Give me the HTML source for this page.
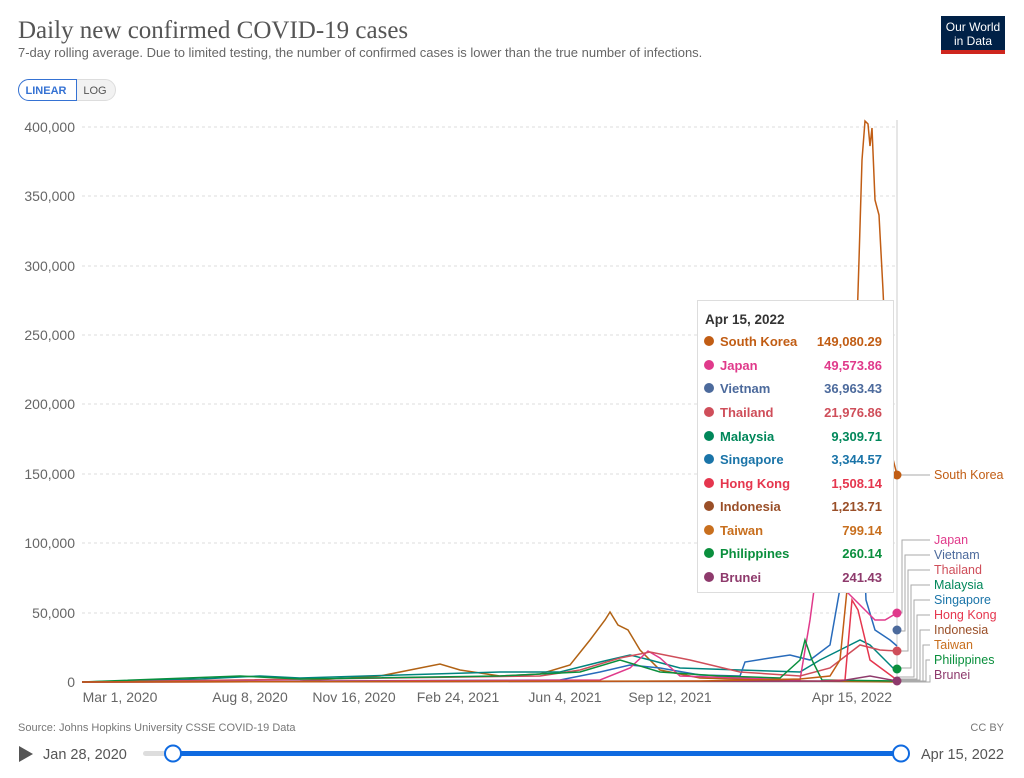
<!DOCTYPE html>
<html><head><meta charset="utf-8"><style>
body{margin:0;background:#fff;width:1024px;height:773px;overflow:hidden;font-family:"Liberation Sans",sans-serif}
</style></head><body>
<svg width="1024" height="773" xmlns="http://www.w3.org/2000/svg" font-family="Liberation Sans, sans-serif">
<text x="18" y="38" font-family="Liberation Serif, serif" font-size="25" fill="#555">Daily new confirmed COVID-19 cases</text>
<text x="18" y="57" font-size="13" fill="#666">7-day rolling average. Due to limited testing, the number of confirmed cases is lower than the true number of infections.</text>
<rect x="941" y="16" width="64" height="38" fill="#002147"/>
<rect x="941" y="50" width="64" height="4" fill="#ce261e"/>
<text x="973" y="31" font-size="12" fill="#fff" text-anchor="middle">Our World</text>
<text x="973" y="45" font-size="12" fill="#fff" text-anchor="middle">in Data</text>
<rect x="18.5" y="79.5" width="97" height="21" rx="10.5" fill="#f2f2f2" stroke="#ddd"/>
<path d="M29 79.5 H76.5 V100.5 H29 A10.5 10.5 0 0 1 29 79.5Z" fill="#fff" stroke="#3572d3"/>
<text x="46" y="94" font-size="11" font-weight="bold" fill="#3572d3" text-anchor="middle">LINEAR</text>
<text x="95" y="94" font-size="11" fill="#555" text-anchor="middle">LOG</text>
<g stroke="#ddd" stroke-dasharray="3,3">
<line x1="82" x2="897" y1="127" y2="127"/><line x1="82" x2="897" y1="196" y2="196"/><line x1="82" x2="897" y1="266" y2="266"/><line x1="82" x2="897" y1="335" y2="335"/><line x1="82" x2="897" y1="404" y2="404"/><line x1="82" x2="897" y1="474" y2="474"/><line x1="82" x2="897" y1="543" y2="543"/><line x1="82" x2="897" y1="613" y2="613"/>
</g>
<line x1="82" x2="897" y1="682" y2="682" stroke="#bbb"/>
<g font-size="14" fill="#666" text-anchor="end">
<text x="75" y="132">400,000</text><text x="75" y="201">350,000</text><text x="75" y="271">300,000</text><text x="75" y="340">250,000</text><text x="75" y="409">200,000</text><text x="75" y="479">150,000</text><text x="75" y="548">100,000</text><text x="75" y="618">50,000</text><text x="75" y="687">0</text>
</g>
<g font-size="14" fill="#666" text-anchor="middle">
<text x="120" y="702">Mar 1, 2020</text><text x="250" y="702">Aug 8, 2020</text><text x="354" y="702">Nov 16, 2020</text><text x="458" y="702">Feb 24, 2021</text><text x="565" y="702">Jun 4, 2021</text><text x="670" y="702">Sep 12, 2021</text><text x="852" y="702">Apr 15, 2022</text>
</g>
<line x1="897" x2="897" y1="120" y2="682" stroke="#ccc"/>
<g fill="none" stroke-width="1.5">
<path stroke="#b16214" d="M82 682 L300 681 L380 676 L420 668 L440 664 L460 670 L500 676 L540 674 L570 665 L590 640 L605 620 L610 612 L618 625 L628 630 L640 650 L660 670 L700 678 L800 681 L897 682"/>
<path stroke="#00847e" d="M82 682 L200 679 L260 676 L300 678 L400 675 L500 672 L560 672 L600 662 L630 655 L650 660 L680 668 L740 670 L800 672 L820 660 L840 650 L860 640 L870 645 L880 655 L897 672"/>
<path stroke="#286bbb" d="M82 682 L560 680 L600 672 L630 665 L660 668 L700 675 L740 676 L745 662 L770 658 L790 655 L810 660 L830 645 L845 560 L852 440 L858 400 L866 600 L875 630 L890 640 L897 646"/>
<path stroke="#e03a8b" d="M82 682 L600 680 L630 668 L648 651 L660 658 L680 676 L800 680 L810 620 L820 545 L830 555 L845 590 L860 605 L875 620 L885 620 L897 613"/>
<path stroke="#cf4e5a" d="M82 682 L540 676 L580 670 L620 658 L650 652 L690 660 L740 672 L800 676 L830 668 L860 645 L880 650 L897 651"/>
<path stroke="#0a8f3d" d="M82 682 L240 676 L300 679 L500 676 L580 672 L620 660 L660 672 L720 676 L780 678 L800 660 L805 640 L812 660 L822 680 L897 681"/>
<path stroke="#e5364e" d="M82 682 L820 681 L845 680 L852 600 L858 610 L870 660 L897 680"/>
<path stroke="#8e3a6c" d="M82 682 L840 681 L870 676 L897 681"/>
<path stroke="#c15d14" d="M82 682 L700 681 L800 679 L830 676 L840 660 L848 580 L854 420 L859 260 L862 160 L865 121 L868 124 L870 146 L872 128 L875 200 L879 215 L883 290 L887 380 L892 455 L897 475"/>
</g>
<g fill="none" stroke="#aaa" stroke-width="1">
<path d="M897 475 H930"/>
<path d="M897 613 H902 V540 H930 M897 631 H905 V555 H930 M897 651 H908 V570 H930 M897 668 H911 V585 H930 M897 677 H914 V600 H930 M897 679 H917 V615 H930 M897 680 H920 V630 H930 M897 681 H923 V645 H930 M897 681 H926 V660 H930 M897 682 H930 V675"/>
</g>
<g>
<circle cx="897" cy="475" r="4.5" fill="#c15d14"/>
<circle cx="897" cy="613" r="4.5" fill="#e03a8b"/>
<circle cx="897" cy="630" r="4.5" fill="#4c6a9c"/>
<circle cx="897" cy="651" r="4.5" fill="#cf4e5a"/>
<circle cx="897" cy="669" r="4.5" fill="#0a8f3d"/>
<circle cx="897" cy="681" r="4.5" fill="#8e3a6c"/>
</g>
<g font-size="12.5">
<text x="934" y="479" fill="#c15d14">South Korea</text>
<text x="934" y="544" fill="#e03a8b">Japan</text>
<text x="934" y="559" fill="#4c6a9c">Vietnam</text>
<text x="934" y="574" fill="#cf4e5a">Thailand</text>
<text x="934" y="589" fill="#00875a">Malaysia</text>
<text x="934" y="604" fill="#1a74a8">Singapore</text>
<text x="934" y="619" fill="#e5364e">Hong Kong</text>
<text x="934" y="634" fill="#9a4f28">Indonesia</text>
<text x="934" y="649" fill="#c86f1e">Taiwan</text>
<text x="934" y="664" fill="#0a8f3d">Philippines</text>
<text x="934" y="679" fill="#8e3a6c">Brunei</text>
</g>
<rect x="697.5" y="300.5" width="196" height="292" fill="#fff" stroke="#ddd"/>
<text x="705" y="324" font-size="13.5" font-weight="bold" fill="#333">Apr 15, 2022</text>
<g font-size="13" font-weight="bold">
<g fill="#c15d14"><circle cx="709" cy="341" r="5"/><text x="720" y="346">South Korea</text><text x="882" y="346" text-anchor="end">149,080.29</text></g>
<g fill="#e03a8b"><circle cx="709" cy="365" r="5"/><text x="720" y="370">Japan</text><text x="882" y="370" text-anchor="end">49,573.86</text></g>
<g fill="#4c6a9c"><circle cx="709" cy="388" r="5"/><text x="720" y="393">Vietnam</text><text x="882" y="393" text-anchor="end">36,963.43</text></g>
<g fill="#cf4e5a"><circle cx="709" cy="412" r="5"/><text x="720" y="417">Thailand</text><text x="882" y="417" text-anchor="end">21,976.86</text></g>
<g fill="#00875a"><circle cx="709" cy="436" r="5"/><text x="720" y="441">Malaysia</text><text x="882" y="441" text-anchor="end">9,309.71</text></g>
<g fill="#1a74a8"><circle cx="709" cy="459" r="5"/><text x="720" y="464">Singapore</text><text x="882" y="464" text-anchor="end">3,344.57</text></g>
<g fill="#e5364e"><circle cx="709" cy="483" r="5"/><text x="720" y="488">Hong Kong</text><text x="882" y="488" text-anchor="end">1,508.14</text></g>
<g fill="#9a4f28"><circle cx="709" cy="506" r="5"/><text x="720" y="511">Indonesia</text><text x="882" y="511" text-anchor="end">1,213.71</text></g>
<g fill="#c86f1e"><circle cx="709" cy="530" r="5"/><text x="720" y="535">Taiwan</text><text x="882" y="535" text-anchor="end">799.14</text></g>
<g fill="#0a8f3d"><circle cx="709" cy="553" r="5"/><text x="720" y="558">Philippines</text><text x="882" y="558" text-anchor="end">260.14</text></g>
<g fill="#8e3a6c"><circle cx="709" cy="577" r="5"/><text x="720" y="582">Brunei</text><text x="882" y="582" text-anchor="end">241.43</text></g>
</g>
<text x="18" y="731" font-size="11" fill="#777">Source: Johns Hopkins University CSSE COVID-19 Data</text>
<text x="1004" y="731" font-size="11" fill="#777" text-anchor="end">CC BY</text>
<path d="M19 746 L33 754 L19 762Z" fill="#555"/>
<text x="43" y="759" font-size="14.5" fill="#555">Jan 28, 2020</text>
<rect x="143" y="751" width="760" height="5" rx="2.5" fill="#ddd"/>
<rect x="173" y="751" width="728" height="5" fill="#0f6ae0"/>
<circle cx="173" cy="753.5" r="8" fill="#fff" stroke="#0f6ae0" stroke-width="2"/>
<circle cx="901" cy="753.5" r="8" fill="#fff" stroke="#0f6ae0" stroke-width="2"/>
<text x="1004" y="759" font-size="14.5" fill="#555" text-anchor="end">Apr 15, 2022</text>
</svg>
</body></html>
